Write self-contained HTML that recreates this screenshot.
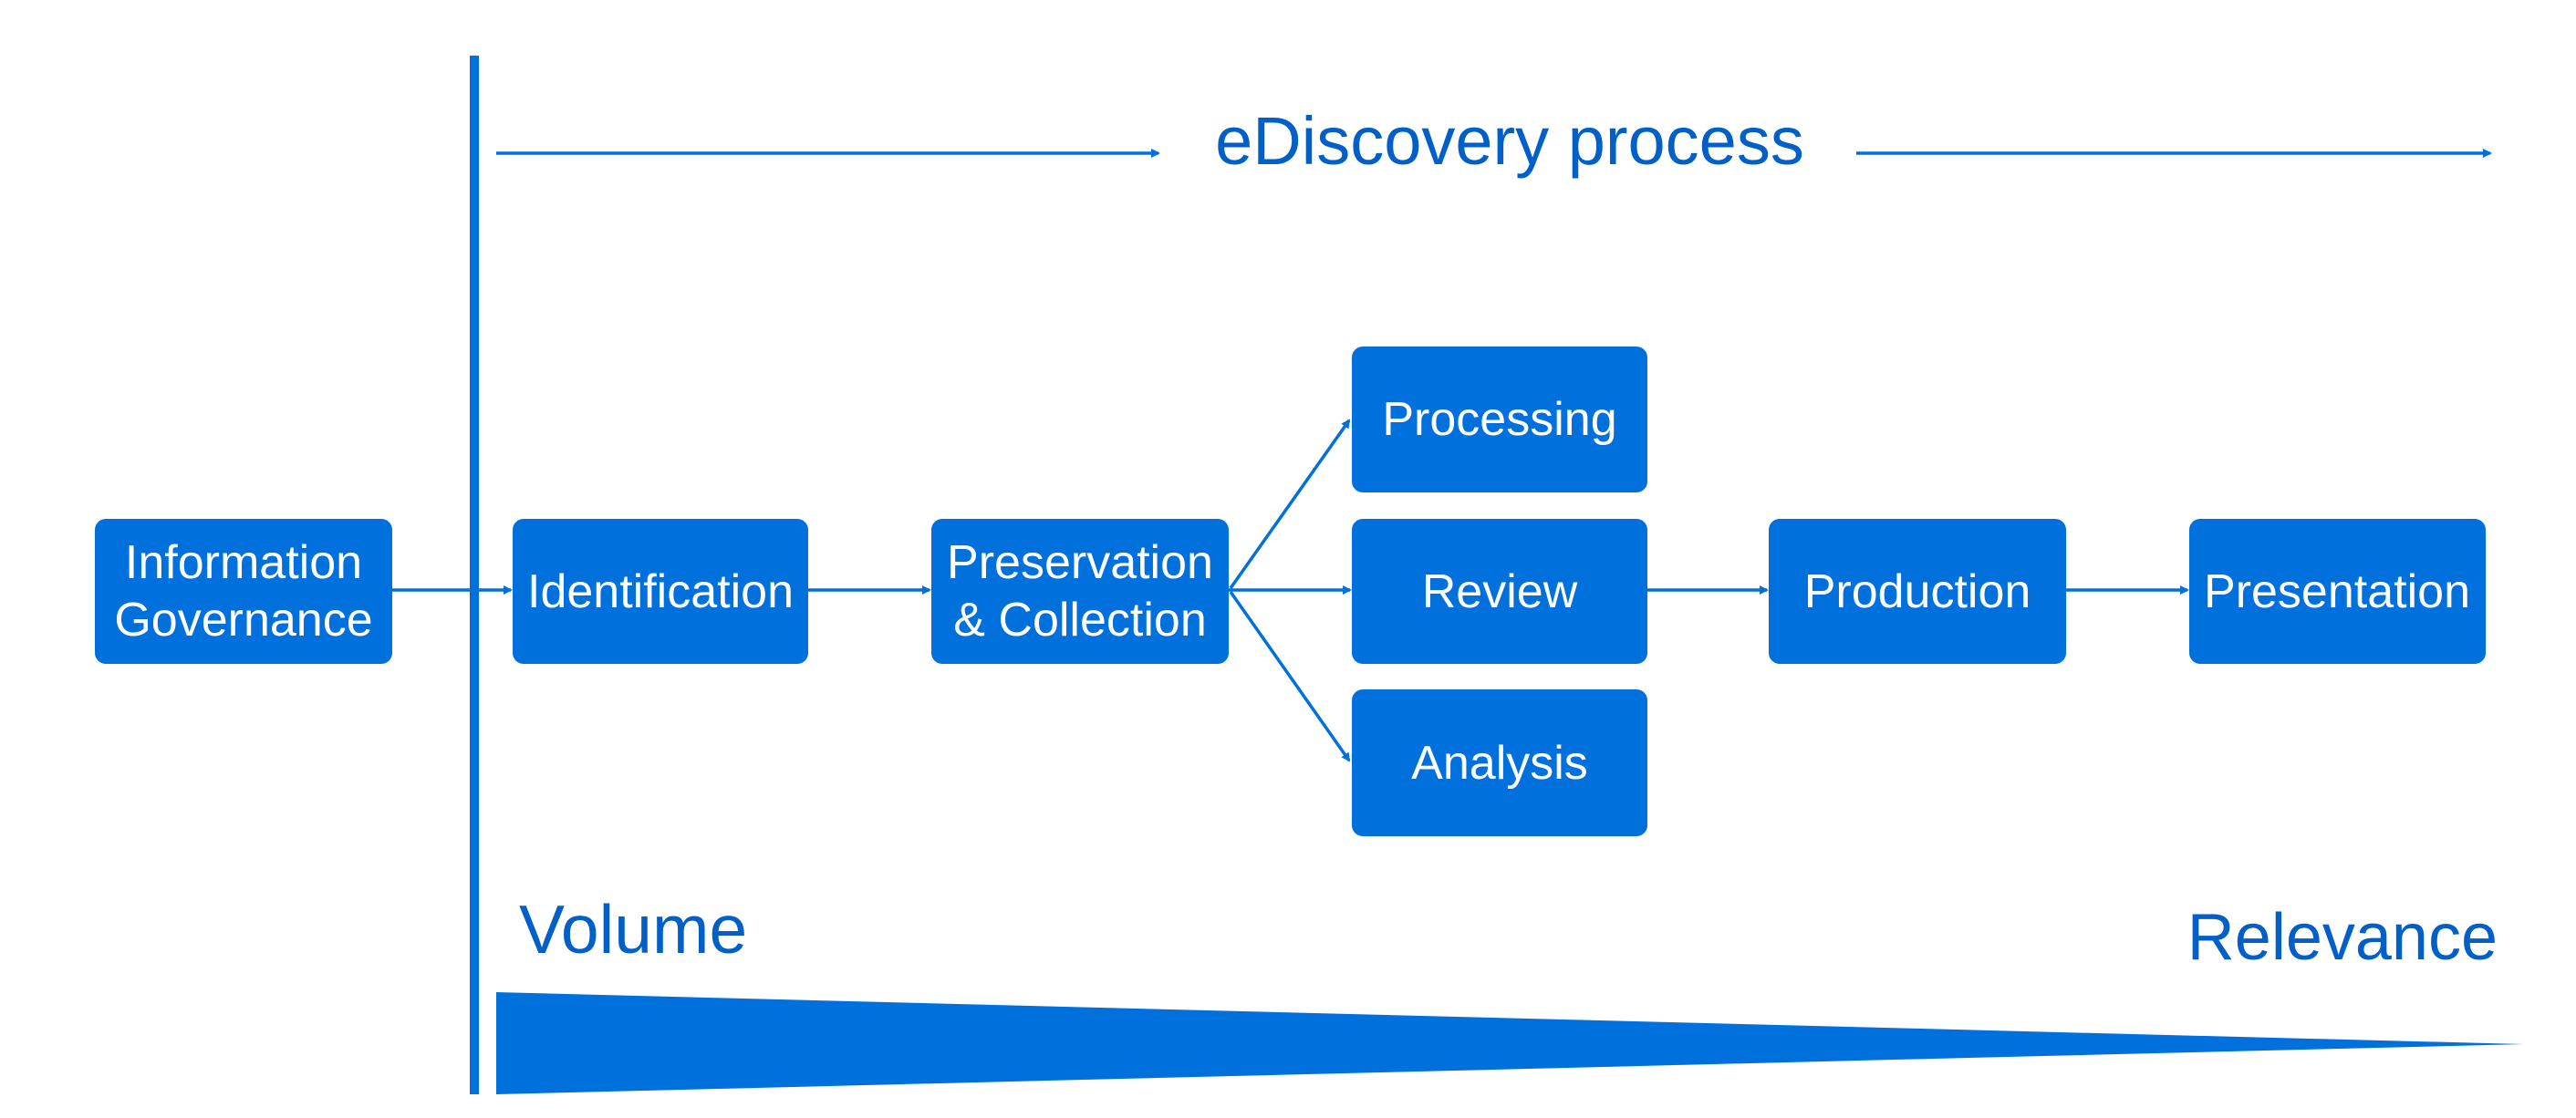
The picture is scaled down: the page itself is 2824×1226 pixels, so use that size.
<!DOCTYPE html>
<html><head><meta charset="utf-8"><style>
html,body{margin:0;padding:0;background:#fff;}
svg{display:block;}
text{font-family:"Liberation Sans",sans-serif;}
</style></head><body>
<svg width="2824" height="1226" viewBox="0 0 2824 1226" xmlns="http://www.w3.org/2000/svg">
<defs>
<marker id="a" markerWidth="10" markerHeight="10" refX="8" refY="5" orient="auto" markerUnits="userSpaceOnUse">
<path d="M0,0 L10,5 L0,10 z" fill="#0071dc"/>
</marker>
</defs>
<g stroke="#0071dc" stroke-width="3.5" fill="none" marker-end="url(#a)">
<line x1="544" y1="168" x2="1270" y2="168"/>
<line x1="2035" y1="168" x2="2730" y2="168"/>
<line x1="430" y1="647" x2="560" y2="647"/>
<line x1="886" y1="647" x2="1019" y2="647"/>
<line x1="1347" y1="647" x2="1480" y2="647"/>
<line x1="1349" y1="645" x2="1479" y2="461"/>
<line x1="1349" y1="649" x2="1479" y2="834"/>
<line x1="1806" y1="647" x2="1937" y2="647"/>
<line x1="2265" y1="647" x2="2398" y2="647"/>
</g>
<rect x="515" y="61" width="10" height="1139" fill="#0071dc"/>
<polygon points="544,1088 2767,1145 544,1200" fill="#0071dc"/>
<g fill="#0071dc">
<rect x="104" y="569" width="326" height="159" rx="12"/>
<rect x="562" y="569" width="324" height="159" rx="12"/>
<rect x="1021" y="569" width="326" height="159" rx="12"/>
<rect x="1482" y="380" width="324" height="160" rx="12"/>
<rect x="1482" y="569" width="324" height="159" rx="12"/>
<rect x="1482" y="756" width="324" height="161" rx="12"/>
<rect x="1939" y="569" width="326" height="159" rx="12"/>
<rect x="2400" y="569" width="325" height="159" rx="12"/>
</g>
<g fill="#fff" font-size="52" text-anchor="middle">
<text x="267" y="634">Information</text>
<text x="267" y="697">Governance</text>
<text x="724" y="666">Identification</text>
<text x="1184" y="634">Preservation</text>
<text x="1184" y="697">&amp; Collection</text>
<text x="1644" y="477">Processing</text>
<text x="1644" y="666">Review</text>
<text x="1644" y="854">Analysis</text>
<text x="2102" y="666">Production</text>
<text x="2562" y="666">Presentation</text>
</g>
<g fill="#0060c8">
<text x="1655" y="180" font-size="74" text-anchor="middle">eDiscovery process</text>
<text x="569" y="1045" font-size="75">Volume</text>
<text x="2738" y="1052" font-size="72" text-anchor="end">Relevance</text>
</g>
</svg>
</body></html>
